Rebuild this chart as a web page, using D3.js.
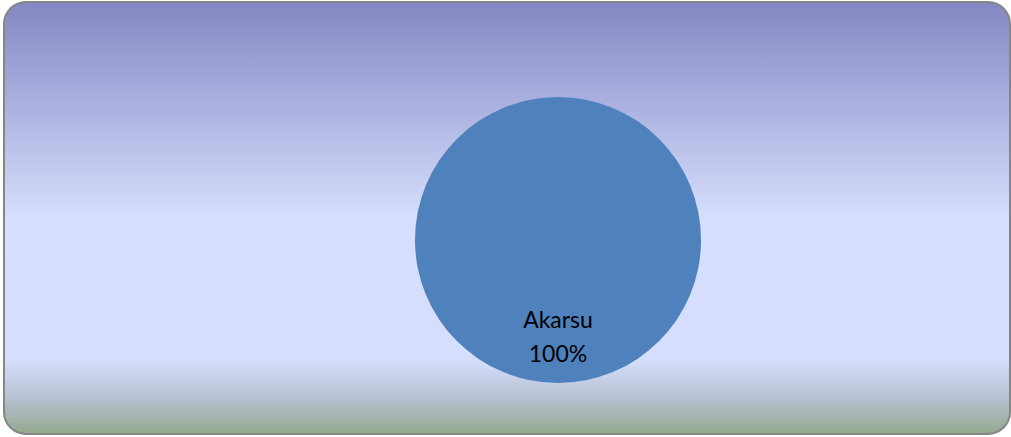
<!DOCTYPE html>
<html>
<head>
<meta charset="utf-8">
<script src="https://cdn.jsdelivr.net/npm/d3@7"></script>
<style>
  html, body { margin: 0; padding: 0; background: #fff; }
  svg { display: block; }
</style>
</head>
<body>
<div id="chart"></div>
<script>
const categories = ["Akarsu"];
const values = [100];

const width = 1011;
const height = 437;

const svg = d3.select("#chart")
    .append("svg")
    .attr("width", width)
    .attr("height", height);

const defs = svg.append("defs");
const grad = defs.append("linearGradient")
    .attr("id", "bg")
    .attr("x1", 0).attr("y1", 0)
    .attr("x2", 0).attr("y2", 1);
[
    [0, "#8387c3"],
    [0.22, "#a8aede"],
    [0.5, "#d5defc"],
    [0.83, "#d5defc"],
    [0.92, "#b4c0cf"],
    [1, "#94a88e"]
].forEach(([o, c]) => grad.append("stop").attr("offset", o).attr("stop-color", c));

// chart area frame, right edge runs to the window border
svg.append("rect")
    .attr("x", 4)
    .attr("y", 2)
    .attr("width", 1006)
    .attr("height", 432)
    .attr("rx", 22)
    .attr("fill", "url(#bg)")
    .attr("stroke", "#868686")
    .attr("stroke-width", 2);

const cx = 558, cy = 240, radius = 143;

const color = d3.scaleOrdinal()
    .domain(categories)
    .range(["#4f81bd"]);

const pie = d3.pie().sort(null);
const data_ready = pie(values).map((d, i) => ({ ...d, name: categories[i] }));

const arc = d3.arc().innerRadius(0).outerRadius(radius);
const labelArc = d3.arc().innerRadius(radius * 0.73).outerRadius(radius * 0.73);

const g = svg.append("g").attr("transform", `translate(${cx}, ${cy})`);

g.selectAll("path")
    .data(data_ready)
    .enter()
    .append("path")
    .attr("d", arc)
    .attr("fill", d => color(d.name));

const total = d3.sum(values);
const labels = g.selectAll("text.lbl")
    .data(data_ready)
    .enter()
    .append("text")
    .attr("class", "lbl")
    .attr("transform", d => `translate(${labelArc.centroid(d)})`)
    .attr("text-anchor", "middle")
    .style("font-family", "Lato, 'Open Sans', sans-serif")
    .style("font-size", "23px")
    .style("fill", "#000");

labels.append("tspan")
    .attr("x", 0)
    .attr("dy", -16)
    .text(d => d.name);
labels.append("tspan")
    .attr("x", 0)
    .attr("dy", 34)
    .text(d => Math.round(d.value / total * 100) + "%");
</script>
</body>
</html>
